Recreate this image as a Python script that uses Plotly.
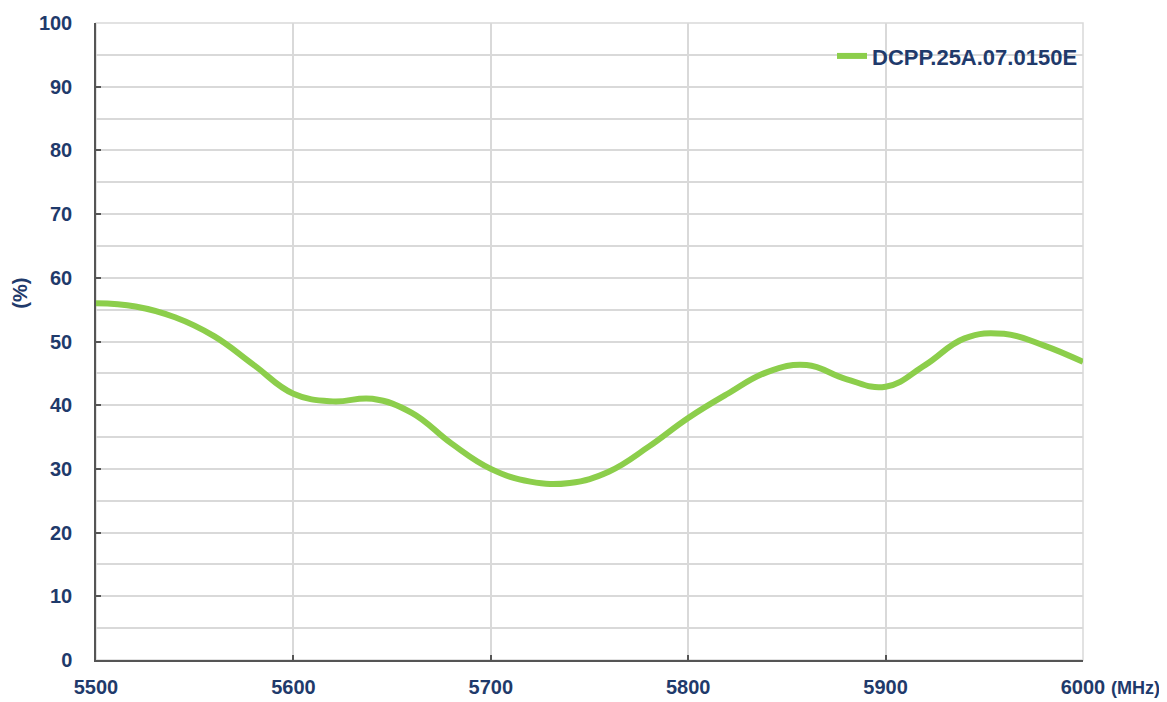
import plotly.graph_objects as go

# frequency (MHz) vs efficiency (%)
freq = [5500, 5520, 5540, 5560, 5580, 5600, 5620, 5640, 5660, 5680, 5700,
        5720, 5740, 5760, 5780, 5800, 5820, 5840, 5860, 5880, 5900, 5920,
        5940, 5960, 5980, 6000]
eff = [56.0, 55.5, 53.8, 50.8, 46.3, 41.8, 40.6, 41.0, 38.8, 34.0, 30.0,
       28.0, 27.8, 29.6, 33.5, 38.0, 41.8, 45.2, 46.3, 44.1, 42.9, 46.3,
       50.5, 51.2, 49.4, 46.8]
series_name = "DCPP.25A.07.0150E"

x_ticks = [5500, 5600, 5700, 5800, 5900, 6000]
y_ticks = list(range(0, 101, 10))

NAVY = "#1f3a6b"
GREEN = "#8cce4b"
GRID = "#d9d9d9"
FONT = "Liberation Sans, Arial, sans-serif"
TXT = dict(family=FONT, size=20, color=NAVY, weight="bold")

fig = go.Figure()
fig.add_trace(go.Scatter(
    x=freq, y=eff, mode="lines", name=series_name,
    line=dict(color=GREEN, width=6, shape="spline", smoothing=1.2),
))

axis_common = dict(
    showline=True, linecolor="#555555", linewidth=1.5,
    ticks="inside", ticklen=5, tickcolor="#555555", tickwidth=1.5,
    showgrid=True, gridcolor=GRID, gridwidth=1.5,
    tickfont=TXT, zeroline=False, fixedrange=True, automargin=False,
)

fig.update_xaxes(
    range=[5500, 6000], tickvals=x_ticks,
    ticktext=[str(v) for v in x_ticks],
    ticklabelstandoff=8, **axis_common,
)
fig.update_yaxes(
    range=[0, 100], tickvals=y_ticks,
    minor=dict(dtick=5, showgrid=True, gridcolor=GRID, gridwidth=1.5, ticks=""),
    ticklabelstandoff=18, **axis_common,
)

# light frame on top / right
fig.add_shape(type="rect", xref="paper", yref="paper", x0=0, y0=0, x1=1, y1=1,
              line=dict(color=GRID, width=1.5), layer="below")

fig.add_annotation(
    x=6000, y=0, xref="x", yref="y", text="(MHz)", showarrow=False,
    xanchor="left", yanchor="middle", xshift=26, yshift=-28,
    font=dict(family=FONT, size=18, color=NAVY, weight="bold"),
)
fig.add_annotation(
    x=-0.077, y=0.575, xref="paper", yref="paper", text="(%)", showarrow=False,
    textangle=-90, xanchor="center", yanchor="middle", font=TXT,
)

# page body adds an 8px offset, margins compensate for it
fig.update_layout(
    width=1167, height=702,
    margin=dict(l=88, r=92, t=15, b=50),
    plot_bgcolor="white", paper_bgcolor="white",
    font=dict(family=FONT, color=NAVY),
    showlegend=True,
    legend=dict(
        x=1.0, y=0.948, xanchor="right", yanchor="middle",
        bgcolor="rgba(0,0,0,0)",
        font=dict(family=FONT, size=22, color=NAVY, weight="bold"),
        itemwidth=30,
    ),
)

fig.write_html("out.html")
